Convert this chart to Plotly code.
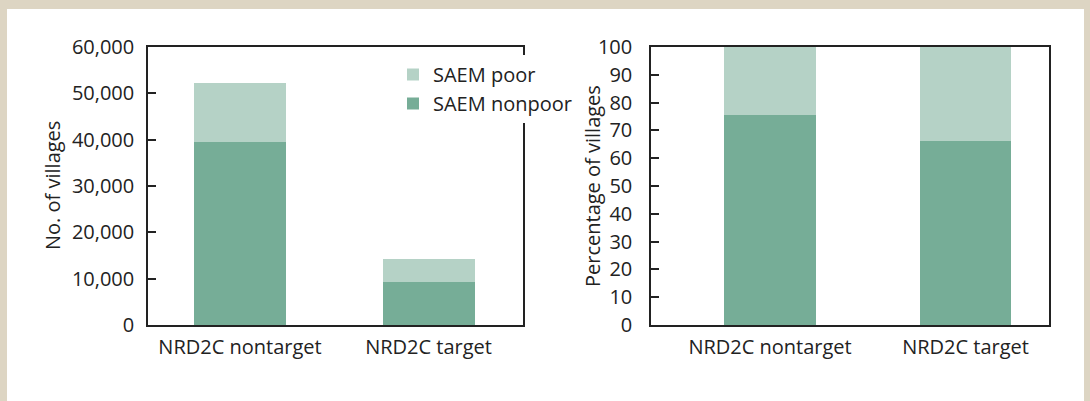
import plotly.graph_objects as go
from plotly.subplots import make_subplots

# Village counts by NRD2C status, split by SAEM poverty classification
categories = ["NRD2C nontarget", "NRD2C target"]
villages_nonpoor = [39600, 9350]
villages_poor = [12700, 4900]

# Shares of villages (percent)
pct_nonpoor = [75.5, 66.3]
pct_poor = [24.5, 33.7]

count_ticks = [0, 10000, 20000, 30000, 40000, 50000, 60000]
pct_ticks = list(range(0, 101, 10))

DARK = "#76AD97"
LIGHT = "#B5D2C6"
FRAME = "#DDD5C3"
INK = "#222222"
FONT = "Open Sans"
FS = 20

W, H = 1090, 401
ML, MR, MT, MB = 148, 41, 47, 76
pw, ph = W - ML - MR, H - MT - MB


def px_x(x):
    return (x - ML) / pw


def px_y(y):
    return (H - MB - y) / ph


fig = make_subplots(rows=1, cols=2, horizontal_spacing=0.05)

fig.add_trace(go.Bar(x=categories, y=villages_nonpoor, name="SAEM nonpoor",
                     marker=dict(color=DARK, line_width=0), width=0.488,
                     legendgroup="np"), row=1, col=1)
fig.add_trace(go.Bar(x=categories, y=villages_poor, name="SAEM poor",
                     marker=dict(color=LIGHT, line_width=0), width=0.488,
                     legendgroup="p"), row=1, col=1)
fig.add_trace(go.Bar(x=categories, y=pct_nonpoor, name="SAEM nonpoor",
                     marker=dict(color=DARK, line_width=0), width=0.469,
                     showlegend=False, legendgroup="np"), row=1, col=2)
fig.add_trace(go.Bar(x=categories, y=pct_poor, name="SAEM poor",
                     marker=dict(color=LIGHT, line_width=0), width=0.469,
                     showlegend=False, legendgroup="p"), row=1, col=2)

axis_common = dict(showline=True, linecolor=INK, linewidth=1.5, mirror=True,
                   showgrid=False, zeroline=False,
                   tickfont=dict(family=FONT, size=FS, color=INK))

fig.update_xaxes(**axis_common, ticks="", type="category")
fig.update_xaxes(domain=[0, px_x(523)], range=[-0.488, 1.501],
                 ticklabelstandoff=3, row=1, col=1)
fig.update_xaxes(domain=[px_x(651), 1], range=[-0.609, 1.427],
                 ticklabelstandoff=3, row=1, col=2)

fig.update_yaxes(**axis_common, ticks="inside", ticklen=8, tickwidth=1.5,
                 tickcolor=INK)
fig.update_yaxes(range=[0, 60000], tickvals=count_ticks, tickformat=",",
                 ticklabelstandoff=8, row=1, col=1)
fig.update_yaxes(range=[0, 100], tickvals=pct_ticks,
                 ticklabelstandoff=13, row=1, col=2)

# White panel inside the beige frame
fig.add_shape(type="rect", xref="paper", yref="paper", layer="below",
              x0=px_x(7), x1=px_x(1084), y0=px_y(H + 20), y1=px_y(9),
              fillcolor="white", line_width=0)

fig.add_annotation(text="No. of villages", xref="paper", yref="paper",
                   x=px_x(52), y=0.5, textangle=-90, showarrow=False,
                   xanchor="center", yanchor="middle",
                   font=dict(family=FONT, size=FS, color=INK))
fig.add_annotation(text="Percentage of villages", xref="paper", yref="paper",
                   x=px_x(592), y=0.5, textangle=-90, showarrow=False,
                   xanchor="center", yanchor="middle",
                   font=dict(family=FONT, size=FS, color=INK))

fig.update_layout(
    width=W, height=H,
    margin=dict(l=ML, r=MR, t=MT, b=MB, autoexpand=False),
    barmode="stack", bargap=0,
    paper_bgcolor=FRAME, plot_bgcolor="rgba(0,0,0,0)",
    font=dict(family=FONT, size=FS, color=INK),
    legend=dict(x=px_x(393), y=px_y(55), xanchor="left", yanchor="top",
                bgcolor="white", borderwidth=0, traceorder="reversed",
                font=dict(family=FONT, size=FS, color=INK),
                itemwidth=30, tracegroupgap=0),
    showlegend=True,
)

fig.write_html("out.html")
